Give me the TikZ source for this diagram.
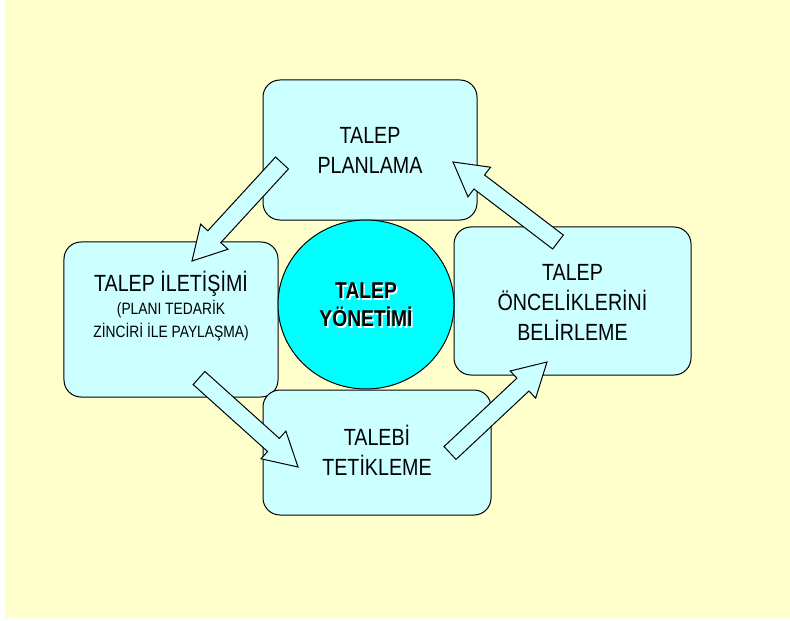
\documentclass[tikz,border=0pt]{standalone}
\usepackage{fontspec}
\setmainfont{Liberation Sans}[FakeStretch=0.84]
\usetikzlibrary{calc,shapes.geometric}

\definecolor{paper}{HTML}{FFFFCC}
\definecolor{boxfill}{HTML}{CCFFFF}
\definecolor{hubfill}{HTML}{00FFFF}

\tikzset{
  stage/.style={draw=black, line width=1bp, fill=boxfill, rounded corners=17bp, inner sep=0pt},
  bigtxt/.style={align=center, inner sep=0pt, font=\fontsize{23.5}{30}\selectfont},
  hubtxt/.style={align=center, inner sep=0pt, font=\bfseries\fontsize{23}{28}\selectfont},
  flow/.style={draw=black, line width=1bp, fill=boxfill, line join=miter},
}

% block arrow from tail point #1 to tip point #2
\newcommand\blockarrow[2]{%
  \coordinate (hb) at ($(#2)!33bp!(#1)$);
  \draw[flow] ($(#1)!8.8bp!90:(#2)$) -- ($(hb)!8.8bp!90:(#2)$)
    -- ($(hb)!18.6bp!90:(#2)$) -- (#2) -- ($(hb)!18.6bp!-90:(#2)$)
    -- ($(hb)!8.8bp!-90:(#2)$) -- ($(#1)!8.8bp!-90:(#2)$) -- cycle;}

\begin{document}
\begin{tikzpicture}[x=1bp, y=-1bp]
  \useasboundingbox (0,0) rectangle (790,621);
  \fill[white] (0,0) rectangle (790,621);
  \fill[paper] (5,0) rectangle (790,618);

  % the four stages
  \node[stage, minimum width=214bp, minimum height=140bp] (plan) at (370,150) {};
  \node[stage, minimum width=237bp, minimum height=148bp] (prio) at (572.5,301) {};
  \node[stage, minimum width=214bp, minimum height=155bp] (comm) at (171,319.5) {};
  \node[stage, minimum width=228bp, minimum height=125bp] (trig) at (377,452.5) {};

  % hub
  \node[ellipse, draw=black, line width=1bp, fill=hubfill, inner sep=0pt,
        minimum width=176bp, minimum height=169bp] (hub) at (366,304.5) {};

  % stage labels
  \node[bigtxt] (plan-t) at (370,150.5) {TALEP\\PLANLAMA};
  \node[bigtxt] (prio-t) at (572.5,302.5) {TALEP\\ÖNCELİKLERİNİ\\BELİRLEME};
  \node[align=center, inner sep=0pt, font=\fontsize{16.5}{23}\selectfont] (comm-t) at (171,306)
    {{\fontsize{23.5}{30}\selectfont TALEP İLETİŞİMİ}\\[1bp](PLANI TEDARİK\\ZİNCİRİ İLE PAYLAŞMA)};
  \node[bigtxt] (trig-t) at (377,450) {TALEBİ\\TETİKLEME};

  % hub label with its light shadow
  \node[hubtxt, text=white] (hub-s) at (367.5,306.5) {TALEP\\YÖNETİMİ};
  \node[hubtxt] (hub-t) at (366,305) {TALEP\\YÖNETİMİ};

  % cycle arrows
  \coordinate (a1s) at (282,163); \coordinate (a1e) at (192,261);
  \coordinate (a2s) at (199,378); \coordinate (a2e) at (298,467);
  \coordinate (a3s) at (450,453); \coordinate (a3e) at (547,362);
  \coordinate (a4s) at (558,242); \coordinate (a4e) at (453,162);
  \blockarrow{a1s}{a1e}
  \blockarrow{a2s}{a2e}
  \blockarrow{a3s}{a3e}
  \blockarrow{a4s}{a4e}
\end{tikzpicture}
\end{document}
